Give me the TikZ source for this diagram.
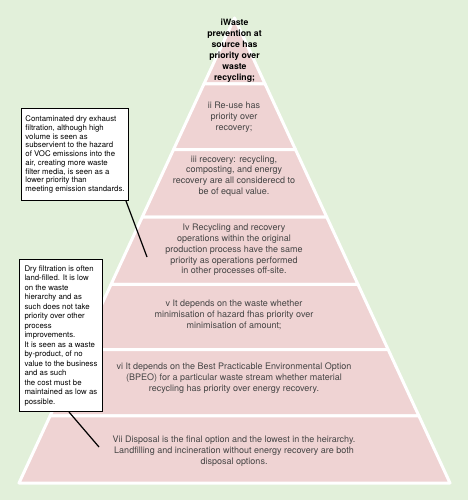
\documentclass[tikz,border=0pt]{standalone}
\usepackage{fontspec}
\setmainfont{TeX Gyre Heros}
\usetikzlibrary{calc}
\definecolor{bggreen}{HTML}{E2F0DA}
\definecolor{pyrpink}{HTML}{EFD3D3}
\definecolor{txtgray}{HTML}{454545}
\begin{document}
\begin{tikzpicture}[x=1pt,y=-1pt,
  seg/.style={fill=pyrpink, draw=white, line width=3pt, line join=round},
  segtext/.style={align=center, text=txtgray, inner sep=0pt,
    font=\fontsize{9}{10.8}\selectfont},
  toptext/.style={align=center, text=black, inner sep=0pt,
    font=\fontsize{8.7}{11}\selectfont\bfseries},
  callout/.style={draw=black, line width=1pt, fill=white, align=left,
    anchor=north west, inner xsep=3.5pt, text=black},
  leader/.style={draw=black, line width=1.2pt}]
\fill[bggreen] (0,0) rectangle (468,500);
\useasboundingbox (0,0) rectangle (468,500);
\coordinate (apex) at (234.5,18);
\coordinate (bl) at (19,483);
\coordinate (br) at (450,483);
\foreach \ta/\tb in {0/0.1419, 0.1419/0.2828, 0.2828/0.4280, 0.4280/0.5731,
                     0.5731/0.7129, 0.7129/0.8559, 0.8559/1}
  \filldraw[seg] ($(apex)!\ta!(bl)$) -- ($(apex)!\tb!(bl)$) -- ($(apex)!\tb!(br)$) -- ($(apex)!\ta!(br)$) -- cycle;

\node[toptext] (t1) at (234.5,50.5) {iWaste\\prevention at\\source has\\priority over\\waste\\recycling;};
\node[segtext] (t2) at (234,117) {ii Re-use has\\priority over\\recovery;};
\node[segtext] (t3) at (234,176) {iii recovery: recycling,\\composting, and energy\\recovery are all considerecd to\\be of equal value.};
\node[segtext] (t4) at (234,250) {Iv Recycling and recovery\\operations within the original\\production process have the same\\priority as operations performed\\in other processes off-site.};
\node[segtext] (t5) at (234,315) {v It depends on the waste whether\\minimisation of hazard fhas priority over\\minimisation of amount;};
\node[segtext] (t6) at (234,378) {vi It depends on the Best Practicable Environmental Option\\(BPEO) for a particular waste stream whether material\\recycling has priority over energy recovery.};
\node[segtext] (t7) at (234,451) {Vii Disposal is the final option and the lowest in the heirarchy.\\Landfilling and incineration without energy recovery are both\\disposal options.};

\node[callout, inner ysep=5pt, minimum width=107pt, minimum height=92pt,
      font=\fontsize{7.8}{8.75}\selectfont] (box1) at (21,108)
  {Contaminated dry exhaust\\filtration, although high\\volume is seen as\\subservient to the hazard\\of VOC emissions into the\\air, creating more waste\\filter media, is seen as a\\lower priority than\\meeting emission standards.};
\node[callout, inner ysep=4.5pt, minimum width=83pt, minimum height=152pt,
      font=\fontsize{7.8}{9.5}\selectfont] (box2) at (19,259)
  {Dry filtration is often\\land-filled. It is low\\on the waste\\hierarchy and as\\such does not take\\priority over other\\process\\improvements.\\It is seen as a waste\\by-product, of no\\value to the business\\and as such\\the cost must be\\maintained as low as\\possible.};

\coordinate (p1) at (147,257);
\coordinate (p2) at (99,447);
\draw[leader] ([xshift=-3pt]box1.south east) -- (p1);
\draw[leader] ([xshift=8pt]box2.south) -- (p2);
\end{tikzpicture}
\end{document}
